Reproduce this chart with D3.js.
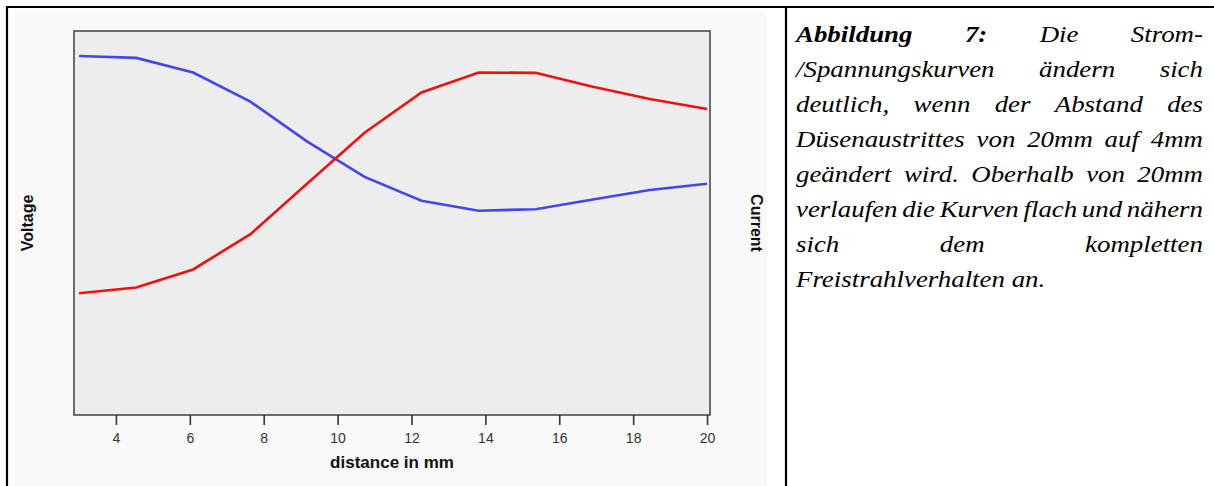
<!DOCTYPE html>
<meta charset="utf-8">
<script src="https://d3js.org/d3.v7.min.js"></script>
<style>
  body { margin: 0; background: #fff; }
</style>
<div id="chart"></div>
<script>

// data (y in arbitrary units, panel height = 100)
var distance = [3, 4.55, 6.09, 7.64, 9.18, 10.73, 12.27, 13.82, 15.36, 16.91, 18.45, 20];
var voltage  = [31.7, 33.2, 37.9, 47.1, 60.3, 73.5, 84.0, 89.2, 89.1, 85.5, 82.3, 79.7];
var current  = [93.5, 93.0, 89.2, 81.6, 71.2, 62.0, 55.8, 53.2, 53.6, 56.1, 58.6, 60.2];
var xTicks = [4, 6, 8, 10, 12, 14, 16, 18, 20];

var captionLines = [
  [["Abbildung", true], ["7:", true], ["Die", false], ["Strom-", false]],
  [["/Spannungskurven"], ["ändern"], ["sich"]],
  [["deutlich,"], ["wenn"], ["der"], ["Abstand"], ["des"]],
  [["Düsenaustrittes"], ["von"], ["20mm"], ["auf"], ["4mm"]],
  [["geändert"], ["wird."], ["Oberhalb"], ["von"], ["20mm"]],
  [["verlaufen"], ["die"], ["Kurven"], ["flach"], ["und"], ["nähern"]],
  [["sich"], ["dem"], ["kompletten"]],
  [["Freistrahlverhalten an."]]
];

var width = 1214, height = 486;
var panel = {left: 74, right: 710, top: 31, bottom: 415};

var svg = d3.select("#chart")
  .append("svg")
    .attr("width", width)
    .attr("height", height);

// light cell behind the chart
svg.append("rect")
  .attr("x", 15).attr("y", 12)
  .attr("width", 752).attr("height", height - 12)
  .attr("fill", "#f9f9f9");

// scales
var x = d3.scaleLinear().domain([2.865, 20.08]).range([panel.left, panel.right]);
var yLeft = d3.scaleLinear().domain([0, 100]).range([panel.bottom, panel.top]);
var yRight = d3.scaleLinear().domain([0, 100]).range([panel.bottom, panel.top]);

// plot panel
svg.append("rect")
  .attr("x", panel.left).attr("y", panel.top)
  .attr("width", panel.right - panel.left)
  .attr("height", panel.bottom - panel.top)
  .attr("fill", "#ededed")
  .attr("stroke", "#4a4a4a")
  .attr("stroke-width", 1.6);

// x axis
var xAxis = svg.append("g")
  .attr("transform", "translate(0," + panel.bottom + ")")
  .call(d3.axisBottom(x).tickValues(xTicks).tickSize(10).tickPadding(8));
xAxis.select(".domain").remove();
xAxis.selectAll(".tick line").attr("stroke", "#333").attr("stroke-width", 1.6);
xAxis.selectAll(".tick text")
  .attr("fill", "#333")
  .style("font-family", "Liberation Sans, Arial, sans-serif")
  .style("font-size", "14px");

// lines
var voltageLine = d3.line()
  .x(function(d, i) { return x(distance[i]); })
  .y(function(d) { return yLeft(d); });
var currentLine = d3.line()
  .x(function(d, i) { return x(distance[i]); })
  .y(function(d) { return yRight(d); });

svg.append("path")
  .datum(current)
  .attr("d", currentLine)
  .attr("fill", "none")
  .attr("stroke", "#4444f2")
  .attr("stroke-width", 2.6);

svg.append("path")
  .datum(voltage)
  .attr("d", voltageLine)
  .attr("fill", "none")
  .attr("stroke", "#f01010")
  .attr("stroke-width", 2.6);

// axis titles
var titleFont = "Liberation Sans, Arial, sans-serif";
svg.append("text")
  .text("distance in mm")
  .attr("x", 392).attr("y", 468)
  .attr("text-anchor", "middle")
  .style("font-family", titleFont)
  .style("font-weight", "bold")
  .style("font-size", "17px")
  .attr("fill", "#111");

svg.append("text")
  .text("Voltage")
  .attr("transform", "translate(33,223) rotate(-90)")
  .attr("text-anchor", "middle")
  .style("font-family", titleFont)
  .style("font-weight", "bold")
  .style("font-size", "16px")
  .attr("fill", "#111");

svg.append("text")
  .text("Current")
  .attr("transform", "translate(751,223) rotate(90)")
  .attr("text-anchor", "middle")
  .style("font-family", titleFont)
  .style("font-weight", "bold")
  .style("font-size", "16px")
  .attr("fill", "#111");

// table borders
svg.append("line").attr("x1", 6).attr("x2", width).attr("y1", 7).attr("y2", 7)
  .attr("stroke", "#000").attr("stroke-width", 2.2);
svg.append("line").attr("x1", 7).attr("x2", 7).attr("y1", 6).attr("y2", height)
  .attr("stroke", "#000").attr("stroke-width", 2.2);
svg.append("line").attr("x1", 786).attr("x2", 786).attr("y1", 6).attr("y2", height)
  .attr("stroke", "#000").attr("stroke-width", 2.2);

// caption, justified like the document (scanned Times is a bit wider)
var capLeft = 796, capRight = 1203, capTop = 42, lineGap = 35, stretch = 1.12;
captionLines.forEach(function(words, li) {
  var g = svg.append("g");
  var y0 = capTop + li * lineGap;
  var nodes = words.map(function(w) {
    return g.append("text")
      .text(w[0])
      .style("font-family", "Liberation Serif, Times New Roman, serif")
      .style("font-style", "italic")
      .style("font-weight", w[1] ? "bold" : "normal")
      .style("font-size", "24px")
      .attr("fill", "#000");
  });
  var widths = nodes.map(function(n) { return n.node().getComputedTextLength() * stretch; });
  var total = d3.sum(widths);
  var last = li === captionLines.length - 1;
  var gap = (words.length > 1 && !last) ? (capRight - capLeft - total) / (words.length - 1) : 6;
  var cx = capLeft;
  nodes.forEach(function(n, i) {
    n.attr("transform", "translate(" + cx + "," + y0 + ") scale(" + stretch + ",1)");
    cx += widths[i] + gap;
  });
});

</script>
